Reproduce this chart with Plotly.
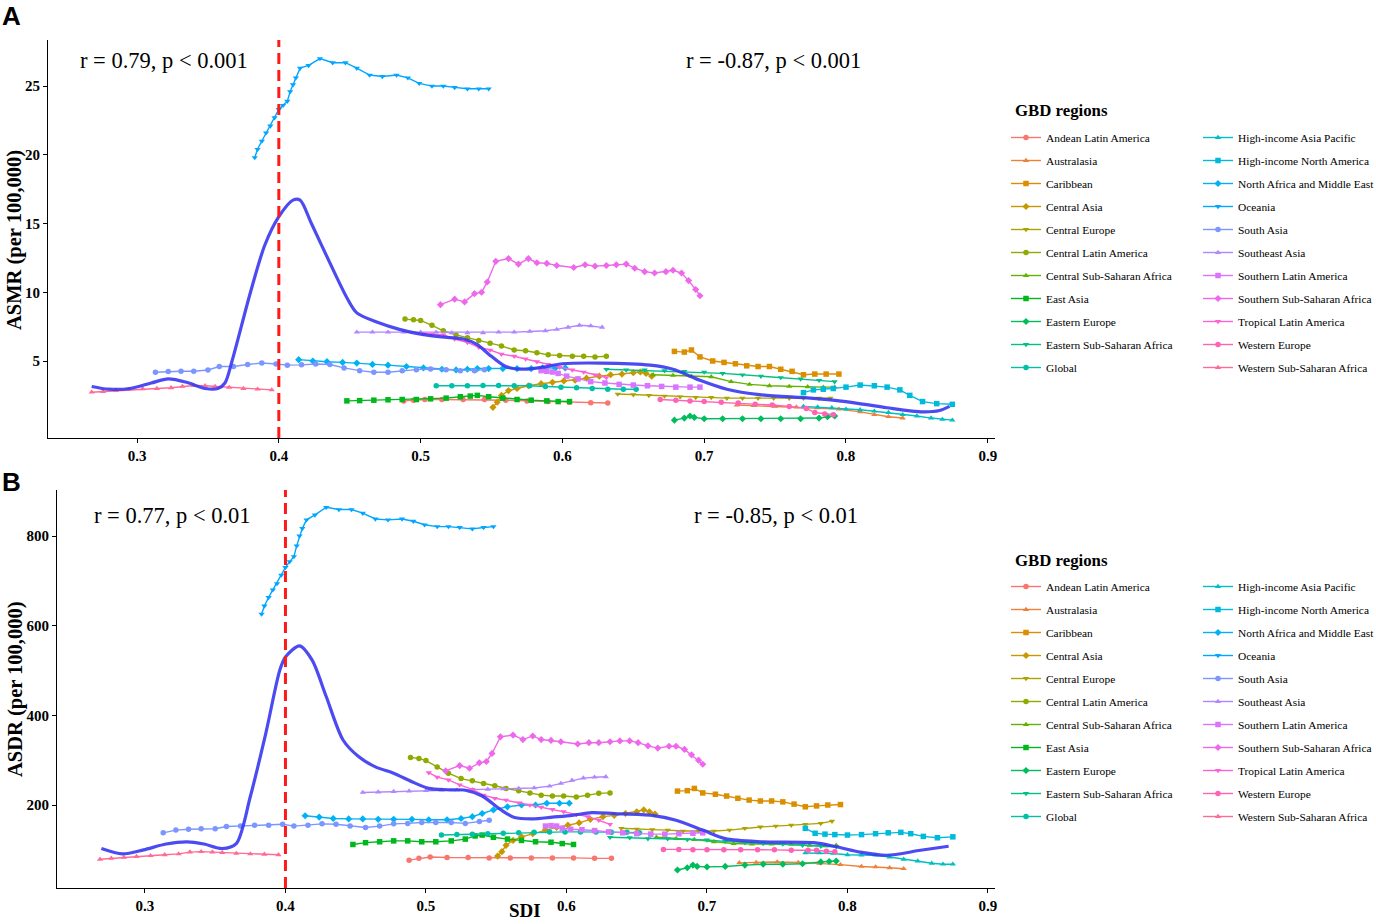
import math
import plotly.graph_objects as go

# GBD regions, in legend order
regions = [
    "Andean Latin America", "Australasia", "Caribbean", "Central Asia",
    "Central Europe", "Central Latin America", "Central Sub-Saharan Africa",
    "East Asia", "Eastern Europe", "Eastern Sub-Saharan Africa", "Global",
    "High-income Asia Pacific", "High-income North America",
    "North Africa and Middle East", "Oceania", "South Asia", "Southeast Asia",
    "Southern Latin America", "Southern Sub-Saharan Africa",
    "Tropical Latin America", "Western Europe", "Western Sub-Saharan Africa",
]

# SDI values per region (1990 -> 2019)
sdi_andean = [0.488, 0.495, 0.503, 0.515, 0.53, 0.545, 0.56, 0.575, 0.59, 0.605, 0.62, 0.632]
sdi_australasia = [0.723, 0.735, 0.75, 0.765, 0.78, 0.795, 0.81, 0.82, 0.83, 0.84]
sdi_caribbean = [0.679, 0.686, 0.691, 0.697, 0.706, 0.714, 0.722, 0.73, 0.738, 0.746, 0.754, 0.762, 0.77, 0.778, 0.786, 0.795]
sdi_central_asia = [0.551, 0.554, 0.557, 0.562, 0.568, 0.576, 0.585, 0.593, 0.601, 0.609, 0.617, 0.626, 0.634, 0.642, 0.65, 0.655, 0.659, 0.663]
sdi_central_europe = [0.639, 0.65, 0.661, 0.672, 0.683, 0.694, 0.705, 0.716, 0.727, 0.738, 0.749, 0.76, 0.77, 0.781, 0.789]
sdi_central_latam = [0.489, 0.495, 0.5, 0.508, 0.516, 0.525, 0.533, 0.541, 0.549, 0.557, 0.566, 0.574, 0.582, 0.59, 0.598, 0.607, 0.615, 0.623, 0.631]
sdi_central_ssa = [0.664, 0.678, 0.691, 0.705, 0.719, 0.732, 0.746, 0.76, 0.773, 0.784, 0.792]
sdi_east_asia = [0.448, 0.457, 0.467, 0.477, 0.487, 0.497, 0.507, 0.518, 0.528, 0.535, 0.54, 0.548, 0.558, 0.568, 0.578, 0.589, 0.597, 0.605]
sdi_eastern_europe = [0.679, 0.686, 0.69, 0.693, 0.7, 0.713, 0.727, 0.74, 0.754, 0.768, 0.781, 0.787, 0.792]
sdi_eastern_ssa = [0.631, 0.645, 0.658, 0.672, 0.686, 0.7, 0.713, 0.727, 0.74, 0.754, 0.768, 0.781, 0.792]
sdi_global = [0.511, 0.522, 0.533, 0.544, 0.555, 0.566, 0.577, 0.588, 0.599, 0.61, 0.621, 0.632, 0.643, 0.652]
sdi_hi_asia_pacific = [0.77, 0.78, 0.79, 0.8, 0.81, 0.82, 0.83, 0.84, 0.85, 0.86, 0.868, 0.875]
sdi_hi_north_america = [0.77, 0.777, 0.784, 0.791, 0.8, 0.81, 0.82, 0.829, 0.838, 0.845, 0.854, 0.864, 0.875]
sdi_north_africa_me = [0.414, 0.424, 0.434, 0.445, 0.455, 0.466, 0.477, 0.49, 0.502, 0.515, 0.525, 0.533, 0.54, 0.548, 0.558, 0.568, 0.578, 0.586, 0.595, 0.602]
sdi_oceania = [0.383, 0.385, 0.388, 0.391, 0.394, 0.397, 0.4, 0.403, 0.406, 0.408, 0.41, 0.412, 0.415, 0.421, 0.429, 0.438, 0.447, 0.455, 0.464, 0.473, 0.483, 0.491, 0.499, 0.508, 0.516, 0.524, 0.533, 0.541, 0.548]
sdi_south_asia = [0.313, 0.322, 0.331, 0.34, 0.35, 0.358, 0.368, 0.378, 0.388, 0.398, 0.406, 0.416, 0.426, 0.436, 0.446, 0.457, 0.467, 0.477, 0.487, 0.497, 0.507, 0.518, 0.528, 0.538, 0.545]
sdi_southeast_asia = [0.455, 0.466, 0.477, 0.488, 0.5, 0.511, 0.522, 0.533, 0.544, 0.555, 0.566, 0.577, 0.588, 0.596, 0.604, 0.612, 0.62, 0.628]
sdi_southern_latam = [0.585, 0.589, 0.593, 0.597, 0.603, 0.611, 0.62, 0.63, 0.64, 0.65, 0.66, 0.67, 0.68, 0.69, 0.697]
sdi_southern_ssa = [0.514, 0.524, 0.531, 0.538, 0.543, 0.547, 0.553, 0.562, 0.569, 0.576, 0.582, 0.589, 0.596, 0.608, 0.616, 0.623, 0.631, 0.638, 0.645, 0.651, 0.658, 0.665, 0.673, 0.678, 0.684, 0.689, 0.694, 0.697]
sdi_tropical_latam = [0.502, 0.508, 0.516, 0.524, 0.533, 0.541, 0.549, 0.557, 0.566, 0.574, 0.582, 0.59, 0.598, 0.607, 0.615, 0.623, 0.631]
sdi_western_europe = [0.669, 0.68, 0.69, 0.7, 0.712, 0.724, 0.736, 0.748, 0.76, 0.772, 0.778, 0.785, 0.791]
sdi_western_ssa = [0.268, 0.276, 0.285, 0.294, 0.304, 0.314, 0.324, 0.332, 0.34, 0.348, 0.355, 0.365, 0.375, 0.385, 0.395]

# ASMR (per 100,000) per region, panel A
asmr_andean = [2.1, 2.15, 2.2, 2.2, 2.2, 2.2, 2.15, 2.1, 2.05, 2.0, 1.97, 1.95]
asmr_australasia = [1.8, 1.75, 1.7, 1.65, 1.6, 1.5, 1.3, 1.1, 0.95, 0.85]
asmr_caribbean = [5.7, 5.65, 5.8, 5.3, 5.0, 4.9, 4.8, 4.65, 4.6, 4.6, 4.4, 4.25, 4.0, 4.05, 4.05, 4.05]
asmr_central_asia = [1.63, 2.0, 2.5, 2.85, 3.0, 3.2, 3.35, 3.45, 3.55, 3.6, 3.75, 3.9, 4.0, 4.05, 4.15, 4.2, 4.1, 3.9]
asmr_central_europe = [2.6, 2.55, 2.5, 2.45, 2.4, 2.35, 2.35, 2.3, 2.3, 2.3, 2.3, 2.3, 2.3, 2.3, 2.3]
asmr_central_latam = [8.05, 8.0, 7.95, 7.6, 7.2, 6.9, 6.7, 6.5, 6.3, 6.1, 5.8, 5.75, 5.6, 5.45, 5.4, 5.35, 5.35, 5.3, 5.35]
asmr_central_ssa = [4.0, 3.95, 3.9, 3.85, 3.5, 3.3, 3.2, 3.15, 3.12, 3.1, 3.1]
asmr_east_asia = [2.1, 2.12, 2.15, 2.18, 2.2, 2.2, 2.25, 2.3, 2.4, 2.45, 2.5, 2.4, 2.3, 2.2, 2.15, 2.1, 2.05, 2.05]
asmr_eastern_europe = [0.7, 0.85, 1.0, 0.9, 0.8, 0.8, 0.8, 0.8, 0.8, 0.8, 0.85, 0.95, 1.0]
asmr_eastern_ssa = [4.4, 4.35, 4.35, 4.3, 4.25, 4.2, 4.1, 4.0, 3.9, 3.8, 3.7, 3.6, 3.5]
asmr_global = [3.2, 3.2, 3.2, 3.22, 3.22, 3.2, 3.2, 3.15, 3.1, 3.05, 3.0, 2.95, 2.95, 2.95]
asmr_hi_asia_pacific = [1.7, 1.65, 1.6, 1.5, 1.45, 1.35, 1.25, 1.1, 1.0, 0.85, 0.75, 0.7]
asmr_hi_north_america = [2.7, 2.9, 2.95, 3.0, 3.1, 3.25, 3.2, 3.1, 2.9, 2.5, 2.05, 1.9, 1.85]
asmr_north_africa_me = [5.1, 5.0, 4.95, 4.9, 4.85, 4.75, 4.7, 4.6, 4.5, 4.4, 4.35, 4.4, 4.45, 4.45, 4.45, 4.45, 4.45, 4.5, 4.5, 4.5]
asmr_oceania = [19.8, 20.4, 21.0, 21.6, 22.1, 22.7, 23.3, 23.6, 23.9, 24.6, 25.1, 25.6, 26.3, 26.5, 27.0, 26.7, 26.7, 26.3, 25.8, 25.7, 25.8, 25.6, 25.2, 25.0, 25.0, 24.9, 24.8, 24.8, 24.8]
asmr_south_asia = [4.18, 4.23, 4.25, 4.25, 4.35, 4.6, 4.6, 4.75, 4.85, 4.78, 4.7, 4.72, 4.78, 4.75, 4.5, 4.3, 4.18, 4.18, 4.3, 4.37, 4.42, 4.37, 4.3, 4.3, 4.37]
asmr_southeast_asia = [7.1, 7.1, 7.1, 7.1, 7.1, 7.1, 7.05, 7.05, 7.05, 7.1, 7.1, 7.15, 7.2, 7.3, 7.45, 7.6, 7.55, 7.45]
asmr_southern_latam = [4.3, 4.25, 4.2, 4.1, 3.9, 3.7, 3.5, 3.4, 3.3, 3.25, 3.2, 3.15, 3.1, 3.1, 3.1]
asmr_southern_ssa = [9.1, 9.5, 9.3, 9.9, 10.0, 10.75, 12.25, 12.45, 12.05, 12.45, 12.15, 12.1, 11.95, 11.8, 12.0, 11.9, 11.95, 12.0, 12.05, 11.75, 11.5, 11.4, 11.5, 11.6, 11.4, 10.85, 10.2, 9.75]
asmr_tropical_latam = [7.0, 6.95, 6.9, 6.6, 6.35, 6.0, 5.8, 5.5, 5.35, 5.15, 4.95, 4.75, 4.55, 4.35, 4.2, 4.0, 3.8]
asmr_western_europe = [2.2, 2.15, 2.1, 2.05, 2.0, 1.95, 1.85, 1.8, 1.7, 1.55, 1.25, 1.15, 1.1]
asmr_western_ssa = [2.73, 2.78, 2.85, 2.92, 2.98, 3.0, 3.05, 3.15, 3.22, 3.2, 3.15, 3.08, 3.0, 2.95, 2.9]

# ASDR (per 100,000) per region, panel B
asdr_andean = [77, 81, 84, 83, 83, 82, 82, 82, 82, 82, 81, 81]
asdr_australasia = [71, 72, 73, 72, 70, 67, 63, 62, 60, 58]
asdr_caribbean = [231, 232, 237, 227, 224, 220, 215, 211, 209, 209, 207, 202, 196, 198, 200, 201]
asdr_central_asia = [86, 96, 110, 121, 129, 136, 144, 150, 155, 160, 168, 174, 177, 181, 185, 189, 185, 180]
asdr_central_europe = [148, 146, 145, 144, 142, 142, 142, 144, 148, 151, 153, 155, 157, 159, 164]
asdr_central_latam = [306, 304, 299, 285, 271, 259, 254, 248, 243, 237, 232, 227, 222, 220, 220, 218, 222, 226, 227]
asdr_central_ssa = [128, 125, 123, 118, 114, 113, 113, 112, 110, 109, 110]
asdr_east_asia = [112, 116, 118, 120, 120, 118, 118, 120, 124, 131, 133, 128, 124, 121, 118, 117, 114, 112]
asdr_eastern_europe = [55, 60, 66, 63, 62, 63, 66, 68, 68, 69, 73, 74, 75]
asdr_eastern_ssa = [128, 127, 125, 125, 123, 122, 119, 116, 114, 113, 110, 108, 107]
asdr_global = [133, 134, 135, 136, 137, 138, 139, 140, 140, 140, 140, 139, 139, 138]
asdr_hi_asia_pacific = [93, 93, 92, 89, 88, 88, 84, 79, 75, 70, 68, 68]
asdr_hi_north_america = [148, 137, 135, 134, 133, 134, 136, 138, 139, 136, 130, 127, 129]
asdr_north_africa_me = [176, 173, 170, 169, 169, 168, 168, 168, 167, 167, 170, 174, 181, 189, 196, 200, 200, 204, 204, 204]
asdr_oceania = [626, 644, 663, 680, 694, 713, 730, 743, 754, 778, 800, 817, 836, 847, 864, 859, 859, 851, 838, 836, 838, 833, 825, 821, 821, 819, 816, 819, 821]
asdr_south_asia = [138, 144, 146, 147, 147, 152, 153, 155, 155, 157, 153, 155, 158, 157, 153, 150, 153, 158, 159, 161, 161, 161, 159, 163, 166]
asdr_southeast_asia = [228, 229, 230, 231, 232, 233, 233, 234, 235, 236, 237, 238, 242, 248, 255, 260, 262, 263]
asdr_southern_latam = [153, 154, 153, 148, 146, 145, 143, 140, 138, 136, 135, 135, 136, 137, 138]
asdr_southern_ssa = [276, 288, 282, 294, 297, 315, 352, 356, 346, 354, 346, 344, 341, 336, 339, 339, 341, 343, 343, 339, 332, 327, 331, 331, 324, 312, 300, 291]
asdr_tropical_latam = [272, 262, 256, 245, 235, 222, 215, 211, 205, 200, 195, 190, 185, 179, 174, 166, 157]
asdr_western_europe = [101, 101, 100, 100, 100, 100, 100, 100, 99, 99, 99, 97, 96]
asdr_western_ssa = [79, 81, 83, 85, 87, 89, 91, 95, 96, 95, 94, 92, 91, 90, 89]

# smoothed trend over all regions
smooth_asmr_sdi = [0.268, 0.28, 0.295, 0.31, 0.322, 0.335, 0.348, 0.357, 0.362, 0.367, 0.38, 0.39, 0.4, 0.41, 0.415, 0.423, 0.438, 0.448, 0.455, 0.47, 0.485, 0.5, 0.515, 0.53, 0.54, 0.548, 0.56, 0.573, 0.586, 0.6, 0.627, 0.662, 0.678, 0.697, 0.716, 0.739, 0.775, 0.8, 0.829, 0.854, 0.866, 0.873]
smooth_asmr = [3.15, 2.95, 3.0, 3.4, 3.7, 3.45, 3.0, 3.0, 3.4, 5.0, 10.0, 13.4, 15.5, 16.7, 16.7, 15.0, 11.7, 9.6, 8.5, 7.8, 7.3, 6.95, 6.75, 6.6, 6.2, 5.5, 4.6, 4.4, 4.55, 4.8, 4.85, 4.7, 4.4, 3.6, 2.95, 2.55, 2.3, 2.05, 1.6, 1.3, 1.4, 1.7]
smooth_asdr_sdi = [0.269, 0.284, 0.299, 0.315, 0.33, 0.342, 0.355, 0.365, 0.375, 0.386, 0.396, 0.4, 0.41, 0.419, 0.429, 0.441, 0.452, 0.464, 0.477, 0.49, 0.502, 0.515, 0.528, 0.54, 0.553, 0.563, 0.576, 0.59, 0.604, 0.618, 0.634, 0.661, 0.678, 0.697, 0.713, 0.738, 0.776, 0.792, 0.809, 0.828, 0.852, 0.872]
smooth_asdr = [103, 91, 100, 113, 118, 113, 103, 114, 219, 360, 501, 530, 555, 523, 442, 345, 308, 285, 271, 252, 237, 234, 233, 220, 190, 172, 169, 173, 177, 183, 181, 177, 166, 144, 125, 118, 116, 107, 95, 88, 99, 108]

sdi_all = [sdi_andean, sdi_australasia, sdi_caribbean, sdi_central_asia, sdi_central_europe,
           sdi_central_latam, sdi_central_ssa, sdi_east_asia, sdi_eastern_europe, sdi_eastern_ssa,
           sdi_global, sdi_hi_asia_pacific, sdi_hi_north_america, sdi_north_africa_me, sdi_oceania,
           sdi_south_asia, sdi_southeast_asia, sdi_southern_latam, sdi_southern_ssa,
           sdi_tropical_latam, sdi_western_europe, sdi_western_ssa]
asmr_all = [asmr_andean, asmr_australasia, asmr_caribbean, asmr_central_asia, asmr_central_europe,
            asmr_central_latam, asmr_central_ssa, asmr_east_asia, asmr_eastern_europe, asmr_eastern_ssa,
            asmr_global, asmr_hi_asia_pacific, asmr_hi_north_america, asmr_north_africa_me, asmr_oceania,
            asmr_south_asia, asmr_southeast_asia, asmr_southern_latam, asmr_southern_ssa,
            asmr_tropical_latam, asmr_western_europe, asmr_western_ssa]
asdr_all = [asdr_andean, asdr_australasia, asdr_caribbean, asdr_central_asia, asdr_central_europe,
            asdr_central_latam, asdr_central_ssa, asdr_east_asia, asdr_eastern_europe, asdr_eastern_ssa,
            asdr_global, asdr_hi_asia_pacific, asdr_hi_north_america, asdr_north_africa_me, asdr_oceania,
            asdr_south_asia, asdr_southeast_asia, asdr_southern_latam, asdr_southern_ssa,
            asdr_tropical_latam, asdr_western_europe, asdr_western_ssa]

x_ticks = [0.3, 0.4, 0.5, 0.6, 0.7, 0.8, 0.9]
asmr_ticks = [5, 10, 15, 20, 25]
asdr_ticks = [200, 400, 600, 800]

W, H = 1376, 924
SERIF = "Liberation Serif, Times New Roman, serif"
SANS = "Liberation Sans, Arial, sans-serif"
SYMBOLS = ["circle", "triangle-up", "square", "diamond", "triangle-down"]


def hue_color(h, c=100.0, lum=65.0):
    # ggplot2 hue_pal(): polar Luv -> sRGB
    hr = math.radians(h)
    u, v = c * math.cos(hr), c * math.sin(hr)
    y = ((lum + 16) / 116) ** 3
    xn, yn, zn = 0.95047, 1.0, 1.08883
    un = 4 * xn / (xn + 15 * yn + 3 * zn)
    vn = 9 * yn / (xn + 15 * yn + 3 * zn)
    up = u / (13 * lum) + un
    vp = v / (13 * lum) + vn
    x = y * 9 * up / (4 * vp)
    z = y * (12 - 3 * up - 20 * vp) / (4 * vp)
    rgb = [3.2404542 * x - 1.5371385 * y - 0.4985314 * z,
           -0.9692660 * x + 1.8760108 * y + 0.0415560 * z,
           0.0556434 * x - 0.2040259 * y + 1.0572252 * z]
    out = []
    for ch in rgb:
        ch = 12.92 * ch if ch <= 0.0031308 else 1.055 * ch ** (1 / 2.4) - 0.055
        out.append(int(round(min(max(ch, 0), 1) * 255)))
    return "#%02X%02X%02X" % tuple(out)


n = len(regions)
colors = [hue_color(15 + 360 * i / n) for i in range(n)]


def px_x(p):
    return p / W


def px_y(p):
    return 1 - p / H


fig = go.Figure()

panels = [
    ("x", "y", asmr_all, smooth_asmr_sdi, smooth_asmr, ("legend", "legend2"), "A"),
    ("x2", "y2", asdr_all, smooth_asdr_sdi, smooth_asdr, ("legend3", "legend4"), "B"),
]
for xa, ya, values, s_x, s_y, legs, tag in panels:
    for i, name in enumerate(regions):
        fig.add_trace(go.Scatter(
            x=sdi_all[i], y=values[i], name=name, mode="lines+markers",
            xaxis=xa, yaxis=ya, legend=legs[0] if i < 11 else legs[1],
            legendgroup=tag + str(i),
            line=dict(color=colors[i], width=1.4),
            marker=dict(symbol=SYMBOLS[i % 5], size=5.5, color=colors[i]),
        ))
    # smooth curve across all regions
    fig.add_trace(go.Scatter(
        x=s_x, y=s_y, mode="lines", xaxis=xa, yaxis=ya, showlegend=False,
        line=dict(color="rgba(55,55,240,0.9)", width=3.2, shape="spline", smoothing=0.8),
    ))

axis_common = dict(showgrid=False, zeroline=False, showline=True, linecolor="black",
                   linewidth=1.2, ticks="outside", ticklen=4, tickcolor="black",
                   tickfont=dict(family=SERIF, size=15, color="black", weight="bold"))

fig.update_layout(
    width=W, height=H,
    margin=dict(l=0, r=0, t=0, b=0, autoexpand=False),
    plot_bgcolor="white", paper_bgcolor="white",
    font=dict(family=SERIF, color="black"),
    xaxis=dict(domain=[px_x(48), px_x(995)], anchor="y", range=[0.2372, 0.9051],
               tickvals=x_ticks, ticktext=[str(t) for t in x_ticks], **axis_common),
    yaxis=dict(domain=[px_y(438), px_y(40)], anchor="x", range=[-0.6, 28.35],
               tickvals=asmr_ticks, **axis_common),
    xaxis2=dict(domain=[px_x(57), px_x(995)], anchor="y2", range=[0.2374, 0.905],
                tickvals=x_ticks, ticktext=[str(t) for t in x_ticks], **axis_common),
    yaxis2=dict(domain=[px_y(888), px_y(490)], anchor="x2", range=[14.9, 902.6],
                tickvals=asdr_ticks, **axis_common),
)

# legends: two columns per panel
leg_style = dict(xanchor="left", yanchor="top", bgcolor="rgba(0,0,0,0)",
                 font=dict(family=SERIF, size=11.4, color="black"),
                 traceorder="grouped", tracegroupgap=4, itemwidth=30)
fig.update_layout(
    legend=dict(x=px_x(1006), y=px_y(123), **leg_style),
    legend2=dict(x=px_x(1198), y=px_y(123), **leg_style),
    legend3=dict(x=px_x(1006), y=px_y(572), **leg_style),
    legend4=dict(x=px_x(1198), y=px_y(572), **leg_style),
)

# cut-off line at SDI 0.4
for xa, ya in [("x", "y"), ("x2", "y2")]:
    fig.add_shape(type="line", xref=xa, yref=ya + " domain", x0=0.4, x1=0.4, y0=0, y1=1,
                  line=dict(color="#FF1A1A", width=3, dash="11px,6px"))


def add_text(text, x, y, size, xanchor="left", yanchor="middle", angle=0, family=SERIF):
    fig.add_annotation(text=text, xref="paper", yref="paper", x=px_x(x), y=px_y(y),
                       xanchor=xanchor, yanchor=yanchor, showarrow=False, textangle=angle,
                       font=dict(family=family, size=size, color="black"))


add_text("<b>A</b>", 0, 16, 26, family=SANS)
add_text("<b>B</b>", 0, 482, 26, family=SANS)
add_text("r = 0.79, p < 0.001", 78, 60, 22.5)
add_text("r = -0.87, p < 0.001", 684, 60, 22.5)
add_text("r = 0.77, p < 0.01", 92, 515, 22.5)
add_text("r = -0.85, p < 0.01", 692, 515, 22.5)
add_text("<b>ASMR (per 100,000)</b>", 15, 240, 20.5, xanchor="center", angle=-90)
add_text("<b>ASDR (per 100,000)</b>", 15, 689, 20.5, xanchor="center", angle=-90)
add_text("<b>SDI</b>", 525, 923, 19, xanchor="center", yanchor="bottom")
add_text("<b>GBD regions</b>", 1013, 111, 16.8)
add_text("<b>GBD regions</b>", 1013, 560, 16.8)

# the page body has a default 8px margin; drop it so the figure fills the window
fig.write_html("out.html", config={"displayModeBar": False},
               post_script="document.body.style.margin='0px';")
